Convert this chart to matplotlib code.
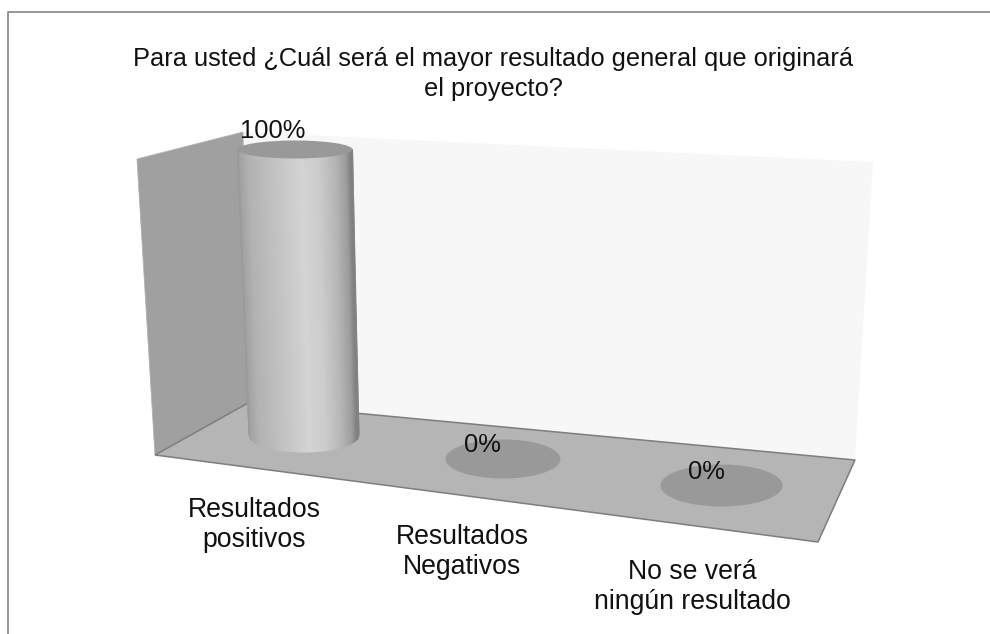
import numpy as np
import matplotlib
matplotlib.use('Agg')
import matplotlib.pyplot as plt
from matplotlib.patches import Ellipse, Polygon

plt.rcParams['font.family'] = ['Liberation Sans', 'DejaVu Sans']

title = 'Para usted ¿Cuál será el mayor resultado general que originará\nel proyecto?'
categories = ['Resultados\npositivos', 'Resultados\nNegativos', 'No se verá\nningún resultado']
values = [100, 0, 0]

# floor spot of each cylinder in image pixels: x, y, rx, ry
base_x = [304, 503, 721.5]
base_y = [435, 459, 485.5]
base_rx = [55, 57.5, 61]
base_ry = [17, 19.5, 21]

label_x = [254, 462, 692]
label_y = [525, 552, 587]
value_x = [273, 482, 706]
value_y = [131, 445, 472]

# how the top of a 100% cylinder moves relative to its base
full_dy = 285.5
full_dx = -9
full_drx = 2.5
full_dry = -8

fig = plt.figure(figsize=(9.9, 6.34), dpi=100)
ax = fig.add_axes([0, 0, 1, 1])
ax.set_xlim(0, 990)
ax.set_ylim(634, 0)
ax.axis('off')

# frame, only top and left are in the crop
ax.plot([7.5, 7.5, 990], [634, 11.5, 11.5], color='#858585', lw=1.2, zorder=1)

# walls and floor
ax.add_patch(Polygon([(243, 132), (873, 162), (855, 460), (248, 403)], fc='#f7f7f7', ec='none', zorder=2))
ax.add_patch(Polygon([(137, 159), (243, 132), (248, 403), (155, 455)], fc='#a0a0a0', ec='#b0b0b0', lw=0.6, zorder=3))
ax.add_patch(Polygon([(155, 455), (248, 403), (855, 460), (818, 542)], fc='#b5b5b5', ec='#7d7d7d', lw=1.1, zorder=3))

# shading across the cylinder, from left edge to right edge
shade_u = np.array([-1, -0.96, -0.8, -0.45, 0.1, 0.4, 0.7, 0.88, 0.97, 1])
shade_g = np.array([0.60, 0.64, 0.70, 0.75, 0.83, 0.80, 0.71, 0.62, 0.50, 0.52])

for i, v in enumerate(values):
    t = v / 100
    top_x = base_x[i] + full_dx * t
    top_y = base_y[i] - full_dy * t
    top_rx = base_rx[i] + full_drx * t
    top_ry = base_ry[i] + full_dry * t
    if v > 0:
        u = np.linspace(-1, 1, 121)
        xb = base_x[i] + base_rx[i] * u
        yb = base_y[i] + base_ry[i] * np.sqrt(1 - u ** 2)
        xt = top_x + top_rx * u
        yt = np.full_like(u, top_y)
        g = np.interp(u, shade_u, shade_g)
        ax.pcolormesh(np.vstack([xt, xb]), np.vstack([yt, yb]), np.vstack([g, g]),
                      shading='gouraud', cmap='gray', vmin=0, vmax=1, zorder=4)
    ax.add_patch(Ellipse((top_x, top_y), 2 * top_rx, 2 * top_ry, fc='#999999', ec='none', zorder=5))
    ax.text(value_x[i], value_y[i], f'{v}%', fontsize=18.4, ha='center', va='center', color='#111111', zorder=6)
    ax.text(label_x[i], label_y[i], categories[i], fontsize=19.2, ha='center', va='center',
            color='#111111', linespacing=1.22, zorder=6)

ax.text(493, 74, title, fontsize=18.3, ha='center', va='center', color='#111111', linespacing=1.28, zorder=6)

fig.savefig('out.png', dpi=100)
